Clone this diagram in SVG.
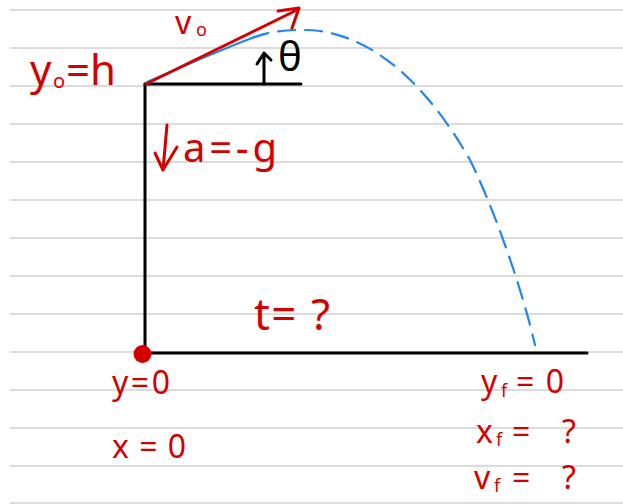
<svg xmlns="http://www.w3.org/2000/svg" width="623" height="504" viewBox="0 0 623 504">
<style>
.rule{stroke:#dcdcdc;stroke-width:2}
.blk{stroke:#000;stroke-width:3;fill:none;stroke-linecap:round;stroke-linejoin:round}
.red{stroke:#d40000;stroke-width:3;fill:none;stroke-linecap:round;stroke-linejoin:round}
.blue{stroke:#2186f0;stroke-width:2.2;fill:none;stroke-linecap:round}
.rt{fill:#d40000;font-family:"Noto Sans","DejaVu Sans",sans-serif}
.bt{fill:#000;font-family:"Noto Sans","DejaVu Sans",sans-serif}
</style>
<rect width="623" height="504" fill="#fff"/>
<g id="paper">
<line class="rule" x1="10" y1="10" x2="623" y2="10"/>
<line class="rule" x1="10" y1="48" x2="623" y2="48"/>
<line class="rule" x1="10" y1="86" x2="623" y2="86"/>
<line class="rule" x1="10" y1="124" x2="623" y2="124"/>
<line class="rule" x1="10" y1="162" x2="623" y2="162"/>
<line class="rule" x1="10" y1="200" x2="623" y2="200"/>
<line class="rule" x1="10" y1="238" x2="623" y2="238"/>
<line class="rule" x1="10" y1="276" x2="623" y2="276"/>
<line class="rule" x1="10" y1="314" x2="623" y2="314"/>
<line class="rule" x1="10" y1="352" x2="623" y2="352"/>
<line class="rule" x1="10" y1="390" x2="623" y2="390"/>
<line class="rule" x1="10" y1="428" x2="623" y2="428"/>
<line class="rule" x1="10" y1="466" x2="623" y2="466"/>
<line class="rule" x1="10" y1="503" x2="623" y2="503"/>
</g>
<g id="connectors">
<path class="blk" d="M145,84 L145,353 L587,353"/>
<path class="blk" d="M145,84 L301,84"/>
<path class="blk" d="M264,84 L264,53 M257,64 L264,53 L271,60"/>
<path class="blue" d="M147,82 C180,68 215,52 252,38"/>
<path class="blue" stroke-dasharray="17 10" d="M252,38 C275,29 300,29 320,31 C380,40 430,90 470,160 C490,200 520,280 535,345"/>
<path class="red" d="M146,84 L299,9 M278,11 L299,8 L292,28"/>
<path class="red" d="M167,125 L163,170 M155,153 L163,170 L177,147"/>
</g>
<g id="origin"><circle cx="142.5" cy="354" r="9" fill="#d40000"/></g>
<g id="labels">
<text class="rt" x="175" y="34" font-size="32">v</text>
<text class="rt" x="196" y="36" font-size="18">o</text>
<text class="bt" x="278" y="71" font-size="40">θ</text>
<text class="rt" x="30" y="85" font-size="42">y</text>
<text class="rt" x="53" y="88" font-size="20">o</text>
<text class="rt" x="66" y="85" font-size="42" textLength="50" lengthAdjust="spacing">=h</text>
<text class="rt" x="183" y="162" font-size="40" textLength="94" lengthAdjust="spacing">a=-g</text>
<text class="rt" x="254" y="330" font-size="44" textLength="76" lengthAdjust="spacing">t= ?</text>
<text class="rt" x="112" y="394" font-size="32" textLength="58" lengthAdjust="spacing">y=0</text>
<text class="rt" x="112" y="458" font-size="32" textLength="74" lengthAdjust="spacing">x=0</text>
<text class="rt" x="481" y="393" font-size="32">y</text>
<text class="rt" x="501" y="397" font-size="18">f</text>
<text class="rt" x="516" y="393" font-size="32" textLength="48" lengthAdjust="spacing">=0</text>
<text class="rt" x="476" y="443" font-size="32">x</text>
<text class="rt" x="496" y="446" font-size="18">f</text>
<text class="rt" x="512" y="443" font-size="32" textLength="64" lengthAdjust="spacing">= ?</text>
<text class="rt" x="474" y="489" font-size="32">v</text>
<text class="rt" x="494" y="492" font-size="18">f</text>
<text class="rt" x="512" y="489" font-size="32" textLength="64" lengthAdjust="spacing">= ?</text>
</g>
</svg>
